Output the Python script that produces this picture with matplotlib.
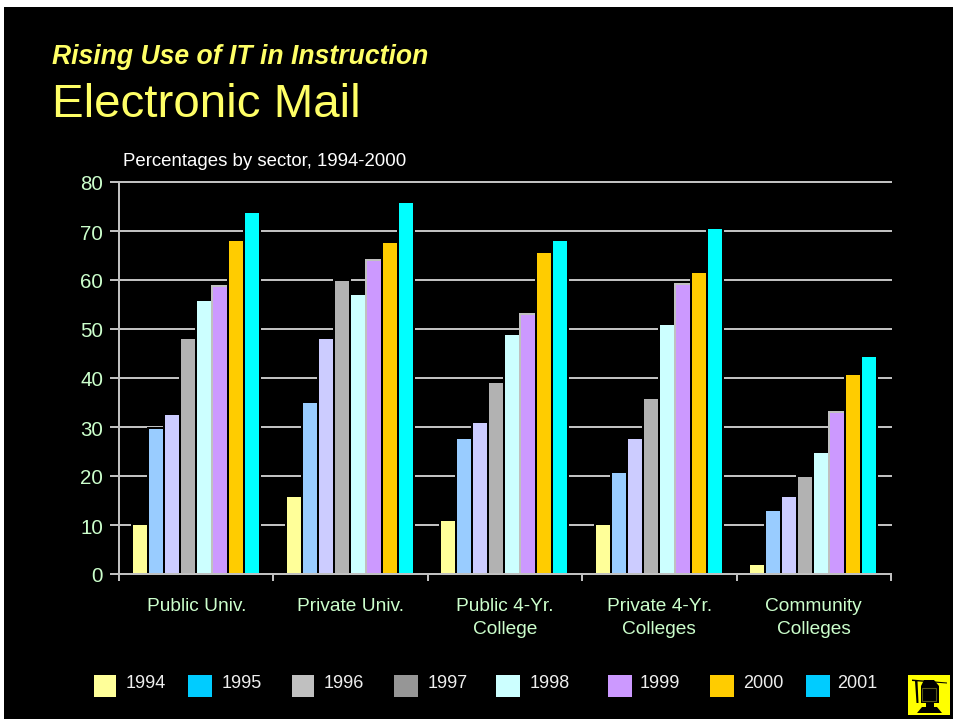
#!/usr/bin/env python3
"""Rising Use of IT in Instruction - Electronic Mail, slide style bar chart."""
import matplotlib
matplotlib.use("Agg")
import matplotlib.pyplot as plt
from matplotlib.patches import Polygon, Rectangle
from matplotlib.transforms import ScaledTranslation
import numpy as np

plt.rcParams["font.family"] = ["Liberation Sans", "DejaVu Sans"]

W, H = 954, 719

sectors = ["Public Univ.", "Private Univ.", "Public 4-Yr.\nCollege",
           "Private 4-Yr.\nColleges", "Community\nColleges"]
years = ["1994", "1995", "1996", "1997", "1998", "1999", "2000", "2001"]

v1994 = [10.2, 15.9, 11.0, 10.2, 2.0]
v1995 = [29.8, 35.1, 27.8, 20.8, 13.1]
v1996 = [32.6, 48.2, 31.0, 27.8, 15.9]
v1997 = [48.2, 60.0, 39.2, 35.9, 20.0]
v1998 = [55.9, 57.1, 49.0, 51.0, 24.9]
v1999 = [58.8, 64.1, 53.1, 59.2, 33.1]
v2000 = [68.2, 67.7, 65.7, 61.6, 40.8]
v2001 = [73.9, 75.9, 68.2, 70.6, 44.5]
series = [v1994, v1995, v1996, v1997, v1998, v1999, v2000, v2001]

bar_colors = ["#FFFF99", "#99CCFF", "#CCCCFF", "#B2B2B2",
              "#CCFFFF", "#CC99FF", "#FFCC00", "#00FFFF"]
legend_colors = ["#FFFF99", "#00CCFF", "#C0C0C0", "#969696",
                 "#CCFFFF", "#CC99FF", "#FFCC00", "#00CCFF"]

# legend layout in pixels (swatch left, swatch right, text left)
legend_swatch = [(94, 116), (188, 212), (292, 314), (394, 418),
                 (496, 520), (608, 632), (710, 734), (806, 830)]
legend_text = [126, 222, 324, 428, 530, 640, 743, 837]

GRID = "#C0C0C0"
TICK_TEXT = "#CCFFCC"
TITLE = "#FFFF66"

fig = plt.figure(figsize=(W / 100, H / 100), dpi=100, facecolor="white")

# full-figure layer in pixel coordinates for the background, titles, legend
bg = fig.add_axes([0, 0, 1, 1], zorder=0)
bg.set_xlim(0, W)
bg.set_ylim(H, 0)
bg.axis("off")
bg.add_patch(Rectangle((4, 7), W - 4, H - 7, facecolor="black", edgecolor="none"))

bg.text(52, 56.5, "Rising Use of IT in Instruction", color=TITLE, fontsize=19.1,
        fontweight="bold", fontstyle="italic", va="center", ha="left")
bg.text(52, 105, "Electronic Mail", color=TITLE, fontsize=34.2, va="center", ha="left")
bg.text(123, 161.5, "Percentages by sector, 1994-2000", color="white", fontsize=13.4,
        va="center", ha="left")

for yr, col, (x0, x1), tx in zip(years, legend_colors, legend_swatch, legend_text):
    bg.add_patch(Rectangle((x0, 675), x1 - x0, 22, facecolor=col, edgecolor="none"))
    bg.text(tx, 683.5, yr, color="#EEEEEE", fontsize=13, va="center", ha="left")

# little graduate-at-a-monitor logo
bg.add_patch(Rectangle((908, 675), 42, 40, facecolor="#FFFF00", edgecolor="none"))
bg.add_patch(Polygon([(912, 679.5), (947, 682.5), (947, 683.5), (912, 681)],
                     facecolor="black", edgecolor="none"))
bg.add_patch(Polygon([(924, 680), (934, 680), (939, 686), (939, 703), (921, 703), (921, 686)],
                     facecolor="black", edgecolor="none"))
bg.add_patch(Rectangle((922.5, 687.5), 14, 13, facecolor="black", edgecolor="#55551A", linewidth=0.8))
bg.add_patch(Rectangle((926, 703), 8, 4, facecolor="black", edgecolor="none"))
bg.add_patch(Polygon([(917, 713), (942, 713), (937, 707), (922, 707)],
                     facecolor="black", edgecolor="none"))
bg.add_patch(Polygon([(915, 681), (917.5, 681), (918.5, 703), (916.5, 703)],
                     facecolor="black", edgecolor="none"))

# main chart
ax = fig.add_axes([119 / W, 1 - 574 / H, (891 - 119) / W, (574 - 182) / H], zorder=1)
ax.patch.set_alpha(0)
ax.set_xlim(0, len(sectors))
ax.set_ylim(0, 80)

px = (891 - 119) / len(sectors)
step = 16 / px
idx = np.arange(len(sectors))
for i, (vals, col) in enumerate(zip(series, bar_colors)):
    x = idx + 0.5 + (i - 3.5) * step - 0.5 / px
    edge = GRID if years[i] == "1999" else "black"
    ax.bar(x, vals, width=step, color=col, edgecolor=edge, linewidth=1.44, zorder=3 + i * 0.1)

ax.set_yticks(np.arange(0, 81, 10))
ax.set_xticks(np.arange(0, len(sectors) + 1))
ax.set_xticklabels([])
ax.set_xticks(idx + 0.5, minor=True)
ax.set_xticklabels(sectors, minor=True, fontsize=13.8, color=TICK_TEXT, linespacing=1.52)
ax.tick_params(axis="x", which="major", length=5, width=1.44, color=GRID)
ax.tick_params(axis="x", which="minor", length=0, pad=17)
ax.tick_params(axis="y", length=6.5, width=1.44, color=GRID, labelsize=14.8,
               labelcolor=TICK_TEXT, pad=5)
for lab in ax.get_xticklabels(minor=True):
    lab.set_verticalalignment("top")
# y labels sit a little below their gridlines in the slide
down = ScaledTranslation(0, -1 / 100, fig.dpi_scale_trans)
for lab in ax.get_yticklabels():
    lab.set_transform(lab.get_transform() + down)

ax.grid(True, axis="y", color=GRID, linewidth=1.44, zorder=1, clip_on=False)
ax.set_axisbelow(True)
for side in ("top", "right"):
    ax.spines[side].set_visible(False)
for side in ("left", "bottom"):
    ax.spines[side].set_color(GRID)
    ax.spines[side].set_linewidth(1.44)
    ax.spines[side].set_zorder(5)

fig.savefig("out.png", dpi=100, facecolor=fig.get_facecolor())
plt.close(fig)
